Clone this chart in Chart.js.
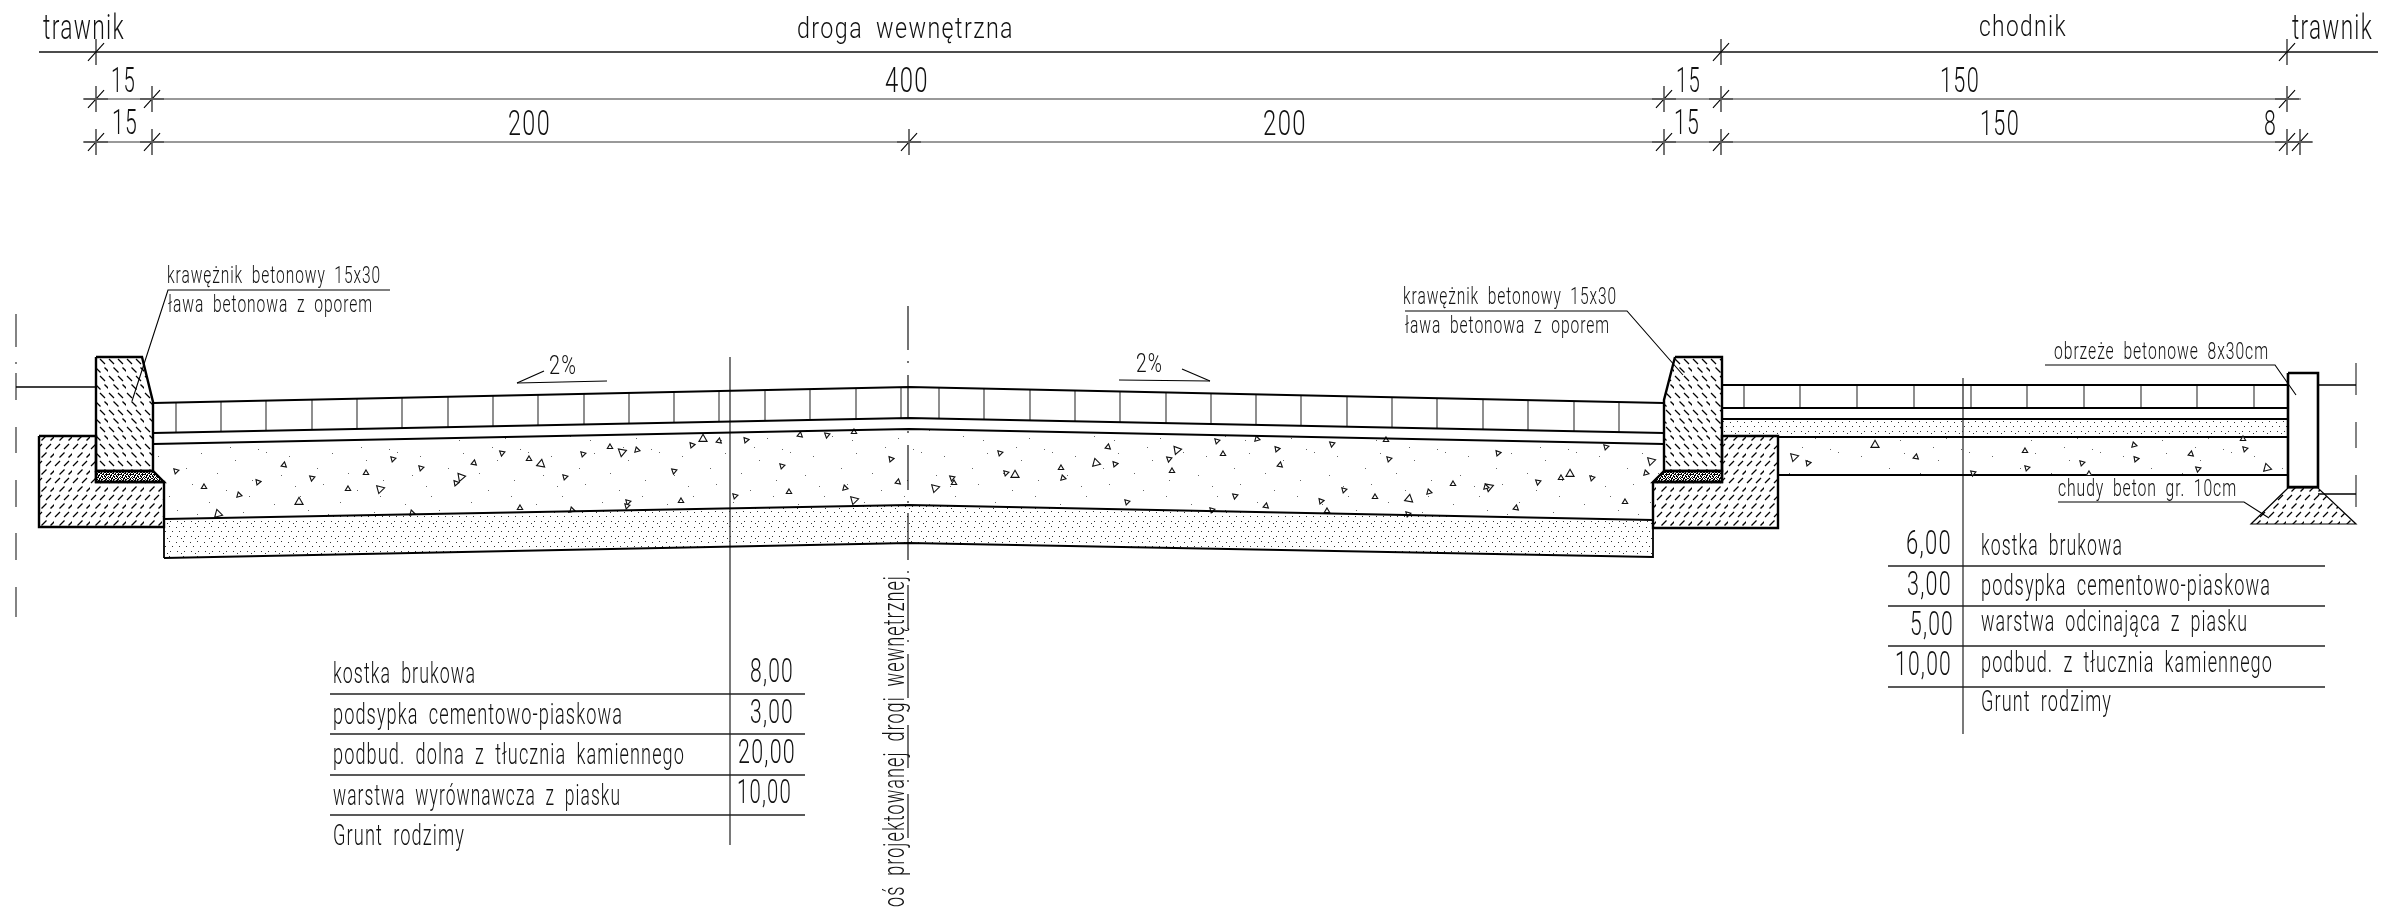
<!DOCTYPE html>
<html lang="pl">
<head>
<meta charset="utf-8">
<title>Przekroj drogi wewnetrznej</title>
<script src="https://cdn.jsdelivr.net/npm/chart.js@4"></script>
<style>html,body{margin:0;padding:0;background:#fff}canvas{display:block}</style>
</head>
<body>
<canvas id="section" width="2390" height="912"></canvas>
<script>
const dimTop = [[39,52],[2378,52]]
const dimMid = [[83,99],[2301,99]]
const dimLow = [[83,142],[2313,142]]
const dimTopTicks = [[96,52],[1721,52],[2287,52]]
const dimMidTicks = [[96,99],[152,99],[1664,99],[1721,99],[2287,99]]
const dimLowTicks = [[96,142],[152,142],[909,142],[1664,142],[1721,142],[2287,142],[2300,142]]

const curbLeft = [[96,357],[142,357],[153,402],[153,471],[96,471],[96,357]]
const curbRight = [[1675,357],[1722,357],[1722,471],[1664,471],[1664,400],[1675,357]]
const bedLeft = [[96,471],[153,471],[164,482],[96,482],[96,471]]
const bedRight = [[1664,471],[1722,471],[1722,482],[1653,482],[1664,471]]
const footLeft = [[39,436],[96,436],[96,482],[164,482],[164,527],[39,527],[39,436]]
const footRight = [[1653,482],[1722,482],[1722,436],[1778,436],[1778,528],[1653,528],[1653,482]]
const edging = [[2288,373],[2318,373],[2318,487],[2288,487],[2288,373]]
const leanBase = [[2288,488],[2318,488],[2356,524],[2251,524],[2288,488]]

const roadTop = [[153,403],[909,387],[1664,403]]
const roadPaverBase = [[153,433],[909,418],[1664,433]]
const roadBedBase = [[153,444],[909,429],[1664,444]]
const roadGravelBase = [[164,519],[909,505],[1653,520]]
const roadSandBase = [[164,558],[909,543],[1653,557],[1653,528]]
const sandLeftEdge = [[164,527],[164,558]]
const walkLines = [
  [[1722,385],[2288,385]], [[1722,408],[2288,408]], [[1722,419],[2288,419]],
  [[1778,437],[2288,437]], [[1778,475],[2288,475]]
]
const groundLines = [[[16,387],[96,387]], [[2318,385],[2356,385]], [[2318,494],[2356,494]]]

const gravelLeft = [[153,444],[909,429],[909,505],[164,519],[164,482],[153,471],[153,444]]
const gravelRight = [[909,429],[1664,444],[1664,471],[1653,482],[1653,520],[909,505],[909,429]]
const gravelWalk = [[1778,438],[2288,438],[2288,475],[1778,475],[1778,438]]
const sandLeft = [[164,519],[909,505],[909,543],[164,558],[164,519]]
const sandRight = [[909,505],[1653,520],[1653,557],[909,543],[909,505]]
const sandWalk = [[1722,419],[2288,419],[2288,437],[1778,437],[1778,436],[1722,436],[1722,419]]

const roadJoints = [
  [176,402.5,432.5],[221,401.6,431.7],[266,400.6,430.8],[312,399.6,429.8],[357,398.7,429],[402,397.7,428],
  [448,396.8,427.1],[493,395.8,426.2],[538,394.9,425.4],[584,393.9,424.4],[629,392.9,423.6],[674,392,422.7],
  [719,391,421.8],[765,390,420.9],[810,389.1,420],[856,388.1,419],[901,387.2,418.2],[939,387.6,418.6],
  [984,388.6,419.5],[1030,389.6,420.4],[1075,390.5,421.3],[1120,391.5,422.2],[1166,392.4,423.1],[1211,393.4,424],
  [1256,394.4,424.9],[1301,395.3,425.8],[1347,396.3,426.7],[1392,397.2,427.6],[1437,398.2,428.5],[1483,399.2,429.4],
  [1528,400.1,430.3],[1574,401.1,431.2],[1619,402,432.1]
]
const walkJoints = [1744,1800,1857,1914,1971,2027,2084,2141,2197,2254]

const axisCentre = [[306,350],[361,363],[375,418],[431,433],[445,490],[501,503],[513,560],[571,573],[585,629],[640,642],[654,698],[710,712],[725,768],[780,782],[794,838]]
const axisLeft = [[314,347],[362,364],[373,400],[427,453],[480,507],[533,560],[587,617]]
const axisRight = [[363,395],[422,448],[475,507]]

const tableLeftLines = [694,734,775,815]
const tableRightLines = [566,606,646,687]
const leaderLines = [
  [[390,290],[168,290],[132,401]],
  [[1405,311],[1627,311],[1683,375]],
  [[2045,365],[2275,365],[2296,395]],
  [[2058,502],[2244,502],[2269,518]],
  [[517,383],[607,381]], [[517,383],[544,371]],
  [[1119,380],[1210,381]], [[1210,381],[1182,369]]
]

const stonesSmall = [
  [176,471],[204,487],[239,495],[258,482],[284,465],[312,478],[366,473],[393,459],[421,468],[348,489],[412,513],
  [456,483],[474,463],[502,453],[529,459],[565,477],[583,454],[610,447],[637,450],[692,445],[719,441],[674,471],
  [520,508],[628,502],[627,506],[681,501],[572,510],[746,440],[800,435],[827,435],[854,432],[782,466],[735,496],
  [789,492],[845,488],[891,459],[898,482],[952,478],[954,483],[1000,453],[1006,473],[1061,468],[1063,478],[1115,464],
  [1108,447],[1169,459],[1172,471],[1127,502],[1217,441],[1223,454],[1257,439],[1277,449],[1280,465],[1332,444],
  [1386,440],[1389,459],[1344,490],[1375,497],[1429,492],[1321,501],[1266,506],[1235,496],[1327,511],[1408,514],
  [1212,510],[1453,484],[1486,487],[1498,453],[1516,508],[1538,482],[1561,478],[1592,478],[1606,447],[1625,502],
  [1646,473],[1808,463],[1916,457],[1973,473],[2025,451],[2027,468],[2082,463],[2089,474],[2134,445],[2136,459],
  [2191,454],[2198,469],[2243,439],[2245,449]
]
const stonesLarge = [
  [380,489],[299,502],[218,514],[461,477],[541,464],[622,452],[703,439],[854,500],[935,488],[1015,475],[1096,463],
  [1177,450],[1409,499],[1489,487],[1570,474],[1651,461],[1794,457],[1875,445],[2267,468]
]
const stoneTurns = [75,0,-15,80,10,70,0,75]

const topLabels = [
  ['trawnik',43,125,39,25], ['droga wewnętrzna',797,1014,38,22], ['chodnik',1979,2067,36,22], ['trawnik',2292,2373,39,25]
]
const dimLabels = [
  ['15',111,136,92,26], ['400',885,929,92,26], ['15',1676,1701,92,26], ['150',1940,1980,92,26],
  ['15',112,138,134,26], ['200',508,551,135,26], ['200',1263,1307,135,26], ['15',1674,1700,134,26],
  ['150',1980,2020,135,26], ['8',2264,2277,135,26]
]
const noteLabels = [
  ['krawężnik betonowy 15x30',167,381,283,17], ['ława betonowa z oporem',168,373,312,17],
  ['krawężnik betonowy 15x30',1403,1617,304,17], ['ława betonowa z oporem',1405,1610,333,17],
  ['obrzeże betonowe 8x30cm',2054,2269,359,17], ['chudy beton gr. 10cm',2058,2237,496,18],
  ['2%',549,577,374,19], ['2%',1136,1163,372,19]
]
const tableLeftLabels = [
  ['kostka brukowa',333,476,683,22], ['podsypka cementowo-piaskowa',333,623,724,22],
  ['podbud. dolna z tłucznia kamiennego',333,685,764,22], ['warstwa wyrównawcza z piasku',333,621,805,22],
  ['Grunt rodzimy',333,465,845,22]
]
const tableLeftValues = [['8,00',750,794,682,24], ['3,00',750,794,723,24], ['20,00',738,796,763,24], ['10,00',737,792,803,24]]
const tableRightValues = [['6,00',1906,1952,554,24], ['3,00',1907,1952,595,24], ['5,00',1910,1954,635,24], ['10,00',1895,1952,675,24]]
const tableRightLabels = [
  ['kostka brukowa',1981,2123,555,22], ['podsypka cementowo-piaskowa',1981,2271,595,22],
  ['warstwa odcinająca z piasku',1981,2248,631,22], ['podbud. z tłucznia kamiennego',1981,2273,672,22],
  ['Grunt rodzimy',1981,2112,711,22]
]
const axisLabel = 'oś projektowanej drogi wewnętrznej'

function tile(w, h, draw) {
  const c = document.createElement('canvas')
  c.width = w; c.height = h
  draw(c.getContext('2d'))
  return c.getContext('2d').createPattern(c, 'repeat')
}
function dashTile(flip) {
  return tile(18, 17, g => {
    g.strokeStyle = '#000'; g.lineWidth = 1.3
    for (const [x, y] of [[1,2],[10,2],[5.5,10.5],[14.5,10.5]]) {
      g.beginPath()
      g.moveTo(x, flip ? y : y + 5); g.lineTo(x + 5, flip ? y + 5 : y); g.stroke()
    }
  })
}
const hatchCurb = dashTile(true)
const hatchFoot = dashTile(false)
const sandFill = tile(14, 15, g => {
  g.fillStyle = '#333'
  for (const [x, y] of [[1,1],[8,2],[4,6],[11,6],[2,11],[9,11],[13,13]]) g.fillRect(x, y, 1, 1)
})
const gravelFill = tile(131, 74, g => {
  g.fillStyle = '#666'
  for (const [x, y] of [[4,8],[19,31],[27,12],[38,52],[46,66],[55,24],[61,40],[70,9],[78,58],[86,29],[95,46],[104,16],[112,68],[121,36],[127,5],[12,60],[33,42],[66,70],[99,3],[118,52]])
    g.fillRect(x, y, 1, 1)
})
const denseFill = tile(12, 8, g => {
  g.fillStyle = '#000'
  const rows = ['#.##.#..##.#','.#..##.#..#.','##.#..##.###','..##.#..#.#.','#.#..##.##..','.##.#.#..#.#','#..##..##.#.','.#.#.##..##.']
  rows.forEach((r, y) => [...r].forEach((ch, x) => { if (ch === '#') g.fillRect(x, y, 1, 1) }))
})

const pts = list => list.map(([x, y]) => ({x, y}))
const stroke = (list, width, color) => ({data: pts(list), showLine: true, fill: false, clip: false, borderColor: color || '#000', borderWidth: width, pointRadius: 0, tension: 0, borderJoinStyle: 'miter'})
const area = (list, pattern) => ({data: pts(list), showLine: true, fill: 'shape', backgroundColor: pattern, borderWidth: 0, borderColor: 'transparent', pointRadius: 0, tension: 0, order: 5})
const mark = (list, rotation, radius, width, color) => ({data: pts(list), showLine: false, pointStyle: 'line', pointRotation: rotation, pointRadius: radius, pointHoverRadius: radius, pointBorderWidth: width, pointBorderColor: color || '#000', backgroundColor: 'transparent'})
const stones = (list, radius) => ({data: pts(list), showLine: false, pointStyle: 'triangle', pointRadius: radius, pointBorderWidth: 1.1, pointBorderColor: '#111', pointBackgroundColor: '#fff', pointRotation: ctx => stoneTurns[ctx.dataIndex % stoneTurns.length]})

const allTicks = dimTopTicks.concat(dimMidTicks, dimLowTicks)
const datasets = [
  stroke(curbLeft, 2.4), stroke(curbRight, 2.4), stroke(bedLeft, 2.4), stroke(bedRight, 2.4),
  stroke(footLeft, 2.4), stroke(footRight, 2.4), stroke(edging, 2.6), stroke(leanBase, 1.2),
  stroke(roadTop, 1.8), stroke(roadPaverBase, 1.8), stroke(roadBedBase, 1.8), stroke(roadGravelBase, 1.8),
  stroke(roadSandBase, 1.8), stroke(sandLeftEdge, 1.8),
  stroke(dimTop, 1.5, '#111'), stroke(dimMid, 1.6, '#777'), stroke(dimLow, 1.6, '#777'),
  mark(allTicks, 90, 13, 1.1), mark(allTicks, -48, 12, 1.1),
  mark(dimMidTicks.concat(dimLowTicks), 0, 12, 1.8),
  stones(stonesSmall, 3.1), stones(stonesLarge, 4.7),
  area(gravelLeft, gravelFill), area(gravelRight, gravelFill), area(gravelWalk, gravelFill),
  area(sandLeft, sandFill), area(sandRight, sandFill), area(sandWalk, sandFill),
  area(curbLeft, hatchCurb), area(curbRight, hatchCurb), area(footLeft, hatchFoot), area(footRight, hatchFoot),
  area(leanBase, hatchFoot), area(bedLeft, denseFill), area(bedRight, denseFill)
]
walkLines.forEach(l => datasets.push(stroke(l, 1.8)))
groundLines.forEach(l => datasets.push(stroke(l, 1.5)))
leaderLines.forEach(l => datasets.push(stroke(l, 1.1)))
roadJoints.forEach(([x, a, b]) => datasets.push(stroke([[x,a],[x,b]], 1.1, '#333')))
walkJoints.forEach(x => datasets.push(stroke([[x,385],[x,408]], 1.1, '#333')))
axisCentre.forEach(([a, b]) => datasets.push(stroke([[908,a],[908,b]], 1.1)))
axisLeft.forEach(([a, b]) => datasets.push(stroke([[16,a],[16,b]], 1.2, '#333')))
axisRight.forEach(([a, b]) => datasets.push(stroke([[2356,a],[2356,b]], 1.2, '#333')))
tableLeftLines.forEach(y => datasets.push(stroke([[330,y],[805,y]], 1.3, '#222')))
tableRightLines.forEach(y => datasets.push(stroke([[1888,y],[2325,y]], 1.3, '#222')))
datasets.push(stroke([[730,357],[730,845]], 1.3, '#333'))
datasets.push(stroke([[1963,378],[1963,734]], 1.3, '#333'))

const labelPlugin = {
  id: 'drawingLabels',
  afterDraw(chart) {
    const {ctx, scales: {x: sx, y: sy}} = chart
    const put = ([text, x0, x1, base, h]) => {
      const left = sx.getPixelForValue(x0), width = sx.getPixelForValue(x1) - left
      ctx.font = '300 ' + (h / 0.73).toFixed(1) + 'px Roboto, "Liberation Sans", sans-serif'
      ctx.letterSpacing = (h * 0.08).toFixed(1) + 'px'
      ctx.wordSpacing = (h * 0.35).toFixed(1) + 'px'
      ctx.save()
      ctx.translate(left, sy.getPixelForValue(base))
      ctx.scale(width / ctx.measureText(text).width, 1)
      ctx.fillText(text, 0, 0)
      ctx.restore()
    }
    ctx.save()
    ctx.fillStyle = '#111'
    ctx.textAlign = 'left'
    ctx.textBaseline = 'alphabetic'
    ;[topLabels, dimLabels, noteLabels, tableLeftLabels, tableLeftValues, tableRightValues, tableRightLabels].forEach(g => g.forEach(put))
    ctx.font = '300 29px Roboto, "Liberation Sans", sans-serif'
    ctx.letterSpacing = '1.6px'
    ctx.wordSpacing = '7px'
    ctx.translate(sx.getPixelForValue(904), sy.getPixelForValue(907))
    ctx.rotate(-Math.PI / 2)
    ctx.scale(332 / ctx.measureText(axisLabel).width, 1)
    ctx.fillText(axisLabel, 0, 0)
    ctx.restore()
  }
}

let sectionChart
function initChart() {
  try {
    sectionChart = new Chart(document.getElementById('section'), {
      type: 'scatter',
      data: {datasets},
      plugins: [labelPlugin],
      options: {
        responsive: false, animation: false, devicePixelRatio: 1, events: [],
        layout: {padding: 0},
        plugins: {legend: {display: false}, tooltip: {enabled: false}},
        scales: {
          x: {type: 'linear', min: 0, max: 2390, display: false},
          y: {type: 'linear', min: 0, max: 912, reverse: true, display: false}
        }
      }
    })
    // the tick marks make chart.js inset the plot area, so line the scales up with it again
    const a = sectionChart.chartArea
    sectionChart.options.scales.x.min = a.left
    sectionChart.options.scales.x.max = a.right
    sectionChart.options.scales.y.min = a.top
    sectionChart.options.scales.y.max = a.bottom
    sectionChart.update()
  } catch (e) {
    console.error('Chart init error:', e)
  }
}
document.addEventListener('DOMContentLoaded', initChart)
</script>
</body>
</html>
